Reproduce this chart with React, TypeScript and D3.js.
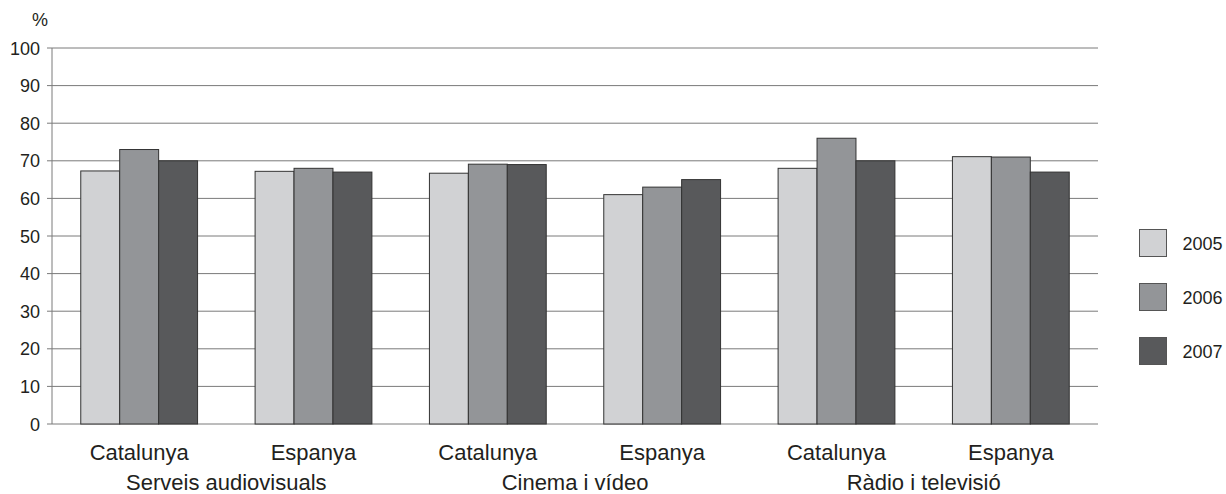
import React from "react";
import * as d3 from "d3";

const categories = ["Catalunya", "Espanya", "Catalunya", "Espanya", "Catalunya", "Espanya"];
const groups = ["Serveis audiovisuals", "Cinema i vídeo", "Ràdio i televisió"];
const years = ["2005", "2006", "2007"];
const values2005 = [67.3, 67.2, 66.7, 61.0, 68.0, 71.1];
const values2006 = [73.0, 68.0, 69.1, 63.0, 76.0, 71.0];
const values2007 = [70.0, 67.0, 69.0, 65.0, 70.0, 67.0];
const yTicks = [0, 10, 20, 30, 40, 50, 60, 70, 80, 90, 100];
const colors = ["#d1d2d4", "#939598", "#58595b"];

const W = 1226;
const H = 494;
const left = 52;
const right = 1098;
const top = 48;
const bottom = 424;
const FONT = "'Liberation Sans', Arial, sans-serif";

export default function App() {
  const series = [values2005, values2006, values2007];
  const idx = categories.map((_, i) => String(i));
  const x = d3.scaleBand<string>().domain(idx).range([left, right]).paddingInner(0.33).paddingOuter(0.165);
  const xi = d3.scaleBand<string>().domain(years).range([0, x.bandwidth()]).padding(0);
  const y = d3.scaleLinear().domain([0, 100]).range([bottom, top]);

  return (
    <svg width={W} height={H} style={{ position: "absolute", left: 0, top: 0, background: "#fff" }}>
      <text x={40} y={26} textAnchor="middle" fontFamily={FONT} fontSize={18} fill="#231f20">%</text>
      {yTicks.map((t) => (
        <g key={t}>
          <line x1={left} x2={right} y1={y(t)} y2={y(t)} stroke="#7a7a7a" strokeWidth={1} />
          <line x1={left - 5} x2={left} y1={y(t)} y2={y(t)} stroke="#7a7a7a" strokeWidth={1} />
          <text x={40} y={y(t) + 6.5} textAnchor="end" fontFamily={FONT} fontSize={18} fill="#231f20">{t}</text>
        </g>
      ))}
      <line x1={left} x2={left} y1={top} y2={bottom} stroke="#7a7a7a" strokeWidth={1} />
      {idx.map((c, i) => (
        <g key={c} transform={`translate(${x(c)},0)`}>
          {years.map((yr, s) => (
            <rect
              key={yr}
              x={xi(yr)}
              y={y(series[s][i])}
              width={xi.bandwidth()}
              height={y(0) - y(series[s][i])}
              fill={colors[s]}
              stroke="#333333"
              strokeWidth={1}
            />
          ))}
        </g>
      ))}
      {idx.map((c, i) => (
        <text key={"l" + c} x={(x(c) as number) + x.bandwidth() / 2} y={460} textAnchor="middle" fontFamily={FONT} fontSize={22} fill="#231f20">
          {categories[i]}
        </text>
      ))}
      {groups.map((g, gi) => {
        const a = (x(String(gi * 2)) as number) + x.bandwidth() / 2;
        const b = (x(String(gi * 2 + 1)) as number) + x.bandwidth() / 2;
        return (
          <text key={g} x={(a + b) / 2} y={490} textAnchor="middle" fontFamily={FONT} fontSize={22} fill="#231f20">
            {g}
          </text>
        );
      })}
      {years.map((yr, s) => (
        <g key={"leg" + yr} transform={`translate(1139.5,${229.5 + s * 54})`}>
          <rect width={27} height={27} fill={colors[s]} stroke="#555" strokeWidth={1} />
          <text x={43} y={20} fontFamily={FONT} fontSize={18} fill="#231f20">{yr}</text>
        </g>
      ))}
    </svg>
  );
}
